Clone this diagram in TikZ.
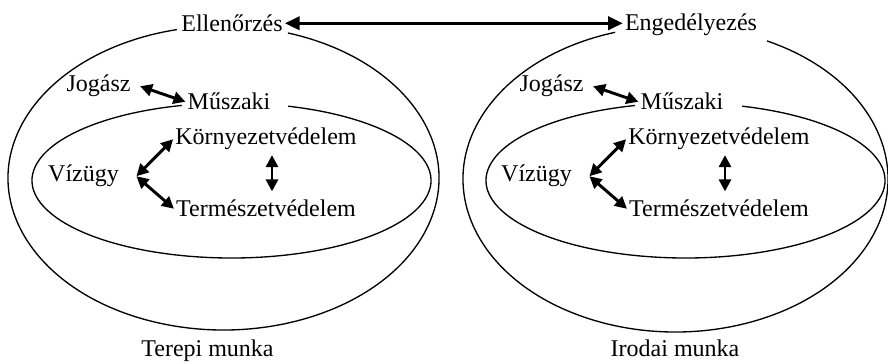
\documentclass[tikz,border=0pt]{standalone}
\usepackage{fontspec}
\setmainfont{Liberation Serif}
\usetikzlibrary{arrows.meta}

\begin{document}
\begin{tikzpicture}[x=0.75pt,y=0.75pt,yscale=-1,xscale=1,
  lbl/.style={anchor=base,inner sep=1.5pt,font=\fontsize{18}{21}\selectfont},
  arrw/.style={{Triangle[length=9pt,width=9pt]}-{Triangle[length=9pt,width=9pt]},line width=2.2pt},
  arrwbig/.style={{Triangle[length=11pt,width=10pt]}-{Triangle[length=11pt,width=10pt]},line width=2.2pt},
  ring/.style={line width=1pt}]
\useasboundingbox (0,0) rectangle (888,363);

%Ellipse arcs, left side
\draw[ring] (223.5,178) ++(287.4:215.5 and 152) arc[start angle=287.4,end angle=617.5,x radius=215.5,y radius=152];
\draw[ring] (231.5,180.5) ++(286.5:199.5 and 77.5) arc[start angle=286.5,end angle=615.6,x radius=199.5,y radius=77.5];
%Ellipse arcs, right side
\draw[ring] (675.5,179) ++(295.5:212.5 and 153) arc[start angle=295.5,end angle=613.5,x radius=212.5,y radius=153];
\draw[ring] (685.5,180.5) ++(286.5:199.5 and 77.5) arc[start angle=286.5,end angle=615.3,x radius=199.5,y radius=77.5];

% Text Node
\node[lbl] (ell) at (232,31.5) {Ellenőrzés};
% Text Node
\node[lbl] (eng) at (691,31) {Engedélyezés};

% Text Node
\node[lbl,inner xsep=7pt] (jog1) at (98.5,92) {Jogász};
% Text Node
\node[lbl] (mus1) at (229,110) {Műszaki};
% Text Node
\node[lbl] (kor1) at (266,145) {Környezetvédelem};
% Text Node
\node[lbl,inner xsep=13pt] (viz1) at (83.5,182) {Vízügy};
% Text Node
\node[lbl] (ter1) at (266,217) {Természetvédelem};
% Text Node
\node[lbl] (terepi) at (207.5,356.5) {Terepi munka};

% Text Node
\node[lbl,inner xsep=7pt] (jog2) at (551.5,92) {Jogász};
% Text Node
\node[lbl] (mus2) at (682,110) {Műszaki};
% Text Node
\node[lbl] (kor2) at (719,145) {Környezetvédelem};
% Text Node
\node[lbl,inner xsep=13pt] (viz2) at (536.5,182) {Vízügy};
% Text Node
\node[lbl] (ter2) at (719,217) {Természetvédelem};
% Text Node
\node[lbl] (iro) at (675,356.5) {Irodai munka};

%Arrows
\draw[arrwbig] (ell.east) -- (ell.east -| eng.west);

\draw[arrw] (jog1.east) -- (mus1.west);
\draw[arrw] (viz1.east) -- (kor1.west);
\draw[arrw] (viz1.east) -- (ter1.west);
\draw[arrw,shorten <=2pt,shorten >=5pt] ([xshift=4.5pt]kor1.south) -- ([xshift=4.5pt]ter1.north);

\draw[arrw] (jog2.east) -- (mus2.west);
\draw[arrw] (viz2.east) -- (kor2.west);
\draw[arrw] (viz2.east) -- (ter2.west);
\draw[arrw,shorten <=2pt,shorten >=5pt] ([xshift=4.5pt]kor2.south) -- ([xshift=4.5pt]ter2.north);

\end{tikzpicture}
\end{document}
